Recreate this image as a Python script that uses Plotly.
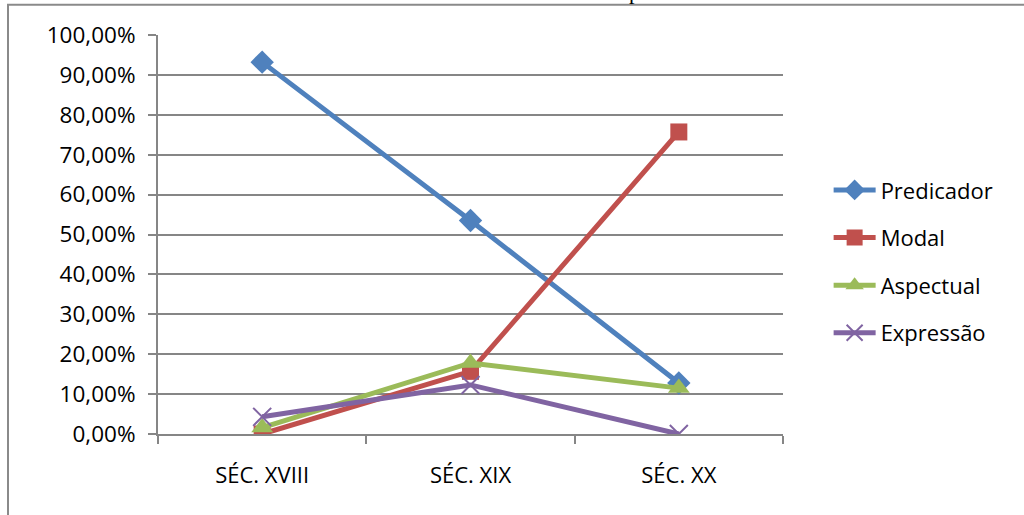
import plotly.graph_objects as go

# Periods on the category axis
periodos = ["SÉC. XVIII", "SÉC. XIX", "SÉC. XX"]

# Share of each use per period (fractions of 1)
predicador = [0.932, 0.535, 0.128]
modal = [0.0, 0.157, 0.757]
aspectual = [0.016, 0.178, 0.115]
expressao = [0.043, 0.123, 0.0]

series = [
    ("Predicador", predicador, "#4F81BD", "diamond", 18),
    ("Modal", modal, "#C0504D", "square", 17),
    ("Aspectual", aspectual, "#9BBB59", "triangle-up", 19),
    ("Expressão", expressao, "#8064A2", "x-thin", 18),
]

fig = go.Figure()
for nome, valores, cor, simbolo, tam in series:
    marker = dict(symbol=simbolo, size=tam, color=cor)
    if simbolo == "x-thin":
        marker["line"] = dict(width=2, color=cor)
    fig.add_trace(go.Scatter(
        x=periodos, y=valores, name=nome, mode="lines+markers",
        legendgroup=nome,
        line=dict(color=cor, width=5), marker=marker,
    ))

font_family = "'Open Sans', 'Noto Sans', sans-serif"

fig.update_layout(
    width=1024, height=515,
    margin=dict(l=158, r=241, t=35, b=81),
    paper_bgcolor="white", plot_bgcolor="white",
    font=dict(family=font_family, size=22, color="black"),
    showlegend=True,
    legend=dict(
        x=1.073, xanchor="left", y=0.432, yanchor="middle",
        font=dict(size=22, family=font_family), tracegroupgap=16,
        itemwidth=42,
    ),
    xaxis=dict(
        type="category", tickson="boundaries", ticks="outside", ticklen=8,
        tickcolor="#868686", tickwidth=2, showgrid=False,
        showline=True, linecolor="#868686", linewidth=2,
        tickfont=dict(size=22), range=[-0.5, 2.5], ticklabelstandoff=21,
    ),
    yaxis=dict(
        range=[0, 1], dtick=0.1, tickformat=".2%",
        ticks="outside", ticklen=8, tickcolor="#868686", tickwidth=2,
        showgrid=True, gridcolor="#868686", gridwidth=2,
        showline=True, linecolor="#868686", linewidth=2,
        zeroline=False, tickfont=dict(size=22.5), ticklabelstandoff=8,
    ),
    separators=",.",
)

# Outer frame of the chart area
fig.add_shape(type="rect", xref="paper", yref="paper",
              x0=-0.24, x1=1.5, y0=-0.3, y1=1.076,
              line=dict(color="#8A8A8A", width=2), layer="below")

# Title text sitting above the visible frame
fig.add_annotation(text="p", xref="paper", yref="paper", x=0.762, y=1.072,
                   xanchor="center", yanchor="bottom", showarrow=False,
                   font=dict(family="Liberation Serif", size=22, color="black"))

fig.write_html("out.html")
